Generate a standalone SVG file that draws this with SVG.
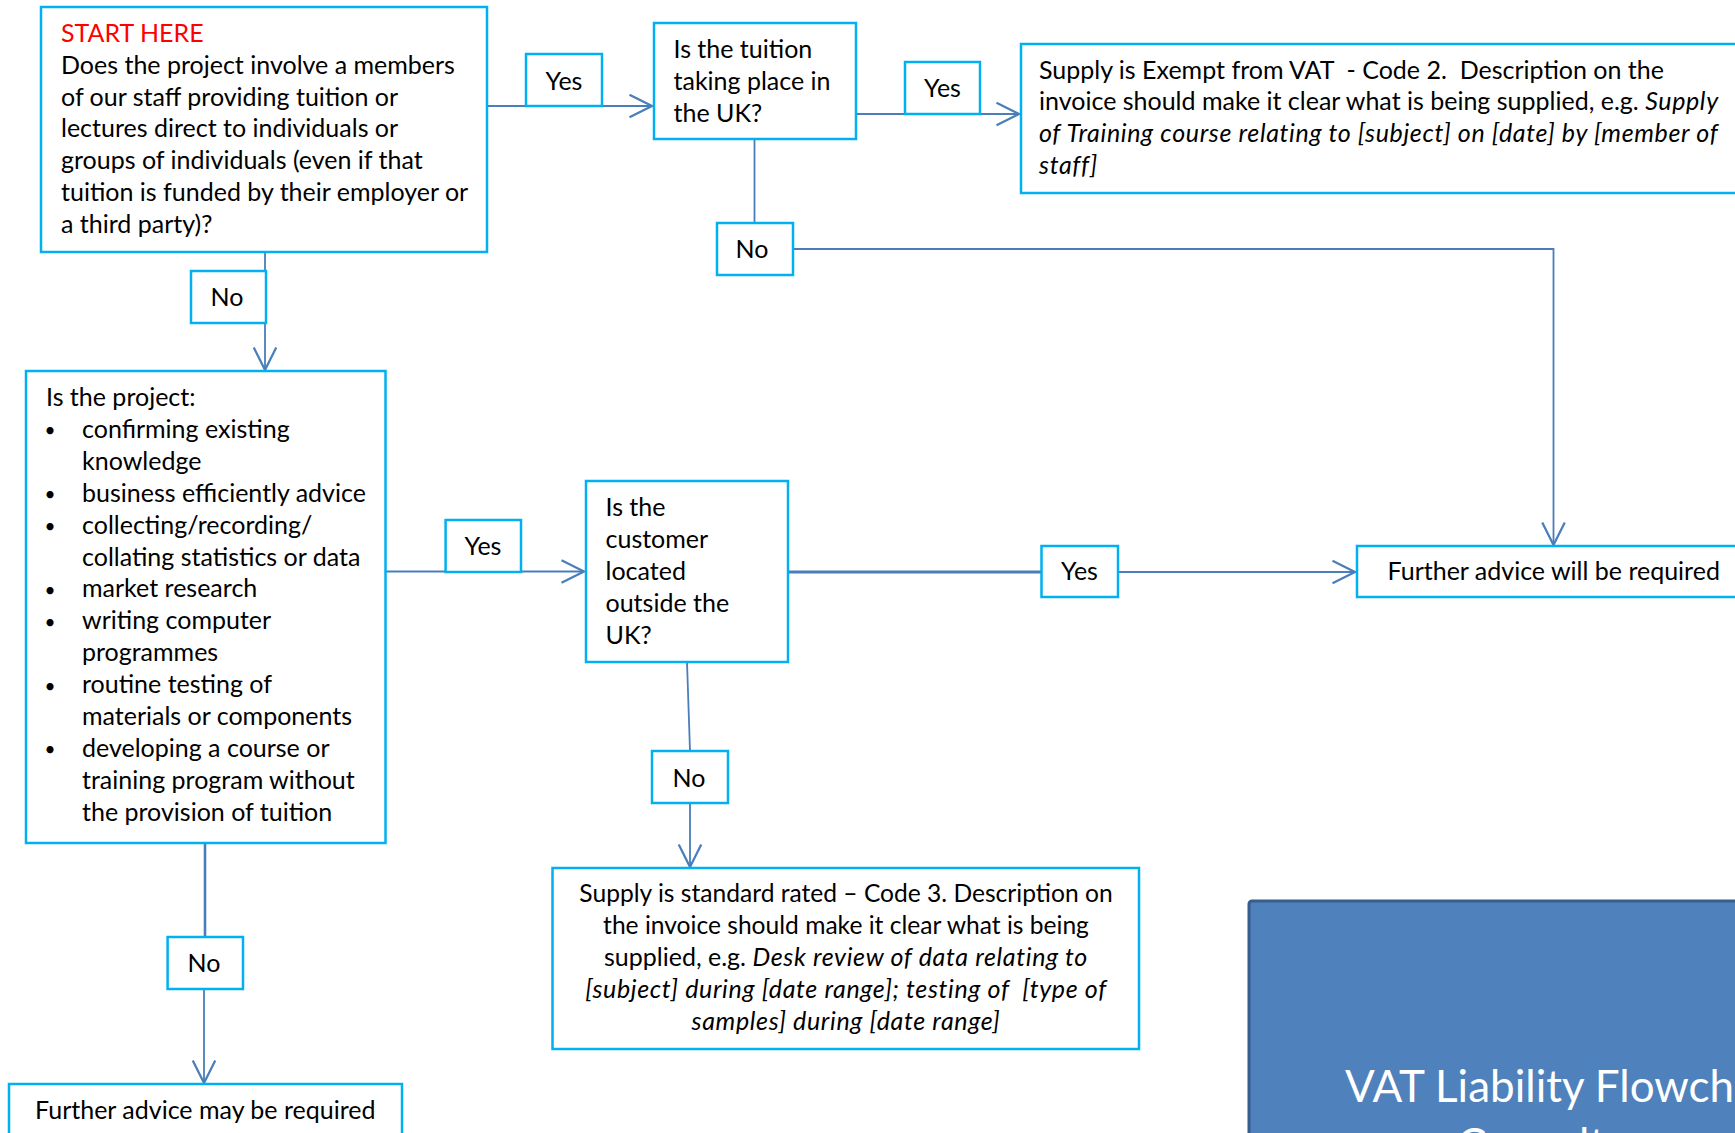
<svg xmlns="http://www.w3.org/2000/svg" width="1735" height="1133" viewBox="0 0 1735 1133">
<style>
.box{fill:#fff;stroke:#00B0F0;stroke-width:2.5}
.t{font-family:Lato,"Liberation Sans",sans-serif;font-size:25px;fill:#000}
.m{text-anchor:middle}
.i{font-style:italic;letter-spacing:0.65px}
.b{font-size:19px}
.c{fill:none;stroke:#4A7EBB;stroke-width:1.8}
.title{font-family:Lato,"Liberation Sans",sans-serif;font-size:44px;fill:#fff}
</style>
<defs>
<marker id="arr" markerUnits="userSpaceOnUse" markerWidth="30" markerHeight="30" viewBox="-20 -12 24 24" refX="0" refY="0" orient="auto">
<path d="M-18,-9 L0,0 L-18,9" fill="none" stroke="#4A7EBB" stroke-width="1.8"/>
</marker>
</defs>
<rect width="1735" height="1133" fill="#fff"/>
<g id="connectors">
<path class="c" d="M487,106 H652" marker-end="url(#arr)"/>
<path class="c" d="M265,252 V370" marker-end="url(#arr)"/>
<path class="c" d="M856,114 H1019" marker-end="url(#arr)"/>
<path class="c" d="M754.5,139 V249 H1553.5 V545" marker-end="url(#arr)"/>
<path class="c" d="M385.5,571.5 H584" marker-end="url(#arr)"/>
<path class="c" d="M788,572 H1041" style="stroke-width:3"/>
<path class="c" d="M1118,572 H1355" marker-end="url(#arr)"/>
<path class="c" d="M687,662 L690,751 M690,803 V867" marker-end="url(#arr)"/>
<path class="c" d="M205,843 V937" style="stroke-width:2.6"/>
<path class="c" d="M204,989 V1083" marker-end="url(#arr)"/>
</g>
<g id="start">
<rect class="box" x="41" y="7" width="446" height="245"/>
<text class="t" x="61" y="42" style="fill:#FF0000">START HERE</text>
<text class="t" x="61" y="73.8">Does the project involve a members</text>
<text class="t" x="61" y="105.6">of our staff providing tuition or</text>
<text class="t" x="61" y="137.4">lectures direct to individuals or</text>
<text class="t" x="61" y="169.2">groups of individuals (even if that</text>
<text class="t" x="61" y="201">tuition is funded by their employer or</text>
<text class="t" x="61" y="232.8">a third party)?</text>
</g>
<g id="tuition">
<rect class="box" x="654" y="23" width="202" height="116"/>
<text class="t" x="673.5" y="57.5">Is the tuition</text>
<text class="t" x="673.5" y="89.5">taking place in</text>
<text class="t" x="673.5" y="121.5">the UK?</text>
</g>
<g id="exempt">
<rect class="box" x="1021" y="44" width="730" height="149"/>
<text class="t" x="1039" y="78.5" xml:space="preserve">Supply is Exempt from VAT  - Code 2.  Description on the</text>
<text class="t" x="1039" y="110.3">invoice should make it clear what is being supplied, e.g. <tspan class="i">Supply</tspan></text>
<text class="t i" x="1039" y="142.1">of Training course relating to [subject] on [date] by [member of</text>
<text class="t i" x="1039" y="173.9">staff]</text>
</g>
<g id="project">
<rect class="box" x="26" y="371" width="359.5" height="472"/>
<text class="t" x="46" y="406">Is the project:</text>
<text class="t m b" x="50" y="437.4">•</text>
<text class="t" x="82" y="437.9">confirming existing</text>
<text class="t" x="82" y="469.8">knowledge</text>
<text class="t m b" x="50" y="501.2">•</text>
<text class="t" x="82" y="501.7">business efficiently advice</text>
<text class="t m b" x="50" y="533.1">•</text>
<text class="t" x="82" y="533.6">collecting/recording/</text>
<text class="t" x="82" y="565.5">collating statistics or data</text>
<text class="t m b" x="50" y="596.9">•</text>
<text class="t" x="82" y="597.4">market research</text>
<text class="t m b" x="50" y="628.8">•</text>
<text class="t" x="82" y="629.3">writing computer</text>
<text class="t" x="82" y="661.2">programmes</text>
<text class="t m b" x="50" y="692.6">•</text>
<text class="t" x="82" y="693.1">routine testing of</text>
<text class="t" x="82" y="725">materials or components</text>
<text class="t m b" x="50" y="756.4">•</text>
<text class="t" x="82" y="756.9">developing a course or</text>
<text class="t" x="82" y="788.8">training program without</text>
<text class="t" x="82" y="820.7">the provision of tuition</text>
</g>
<g id="customer">
<rect class="box" x="586" y="481" width="202" height="181"/>
<text class="t" x="605.5" y="515.5">Is the</text>
<text class="t" x="605.5" y="547.5">customer</text>
<text class="t" x="605.5" y="579.5">located</text>
<text class="t" x="605.5" y="611.5">outside the</text>
<text class="t" x="605.5" y="643.5">UK?</text>
</g>
<g id="further-will">
<rect class="box" x="1357" y="546" width="400" height="51"/>
<text class="t" x="1387.5" y="579.5">Further advice will be required</text>
</g>
<g id="standard">
<rect class="box" x="552.5" y="868" width="586.5" height="181"/>
<text class="t m" x="846" y="902" style="font-size:24.6px">Supply is standard rated – Code 3. Description on</text>
<text class="t m" x="846" y="933.9" style="font-size:24.6px">the invoice should make it clear what is being</text>
<text class="t m" x="846" y="965.8">supplied, e.g. <tspan class="i">Desk review of data relating to</tspan></text>
<text class="t m i" x="846" y="997.7" xml:space="preserve">[subject] during [date range]; testing of  [type of</text>
<text class="t m i" x="846" y="1029.6">samples] during [date range]</text>
</g>
<g id="further-may">
<rect class="box" x="9" y="1084" width="393" height="70"/>
<text class="t" x="35" y="1118.5">Further advice may be required</text>
</g>
<g id="title">
<rect x="1249" y="901" width="560" height="260" rx="3" fill="#4F81BD" stroke="#385D8A" stroke-width="3"/>
<text class="title" x="1345" y="1102">VAT Liability Flowchart</text>
<text class="title" x="1457" y="1160">Consultancy</text>
</g>
<g id="label-yes1"><rect class="box" x="526" y="54" width="76" height="52"/><text class="t m" x="564" y="89.8">Yes</text></g>
<g id="label-no1"><rect class="box" x="191" y="271" width="75" height="52"/><text class="t m" x="227" y="306.2">No</text></g>
<g id="label-yes2"><rect class="box" x="905" y="62" width="75" height="52"/><text class="t m" x="942.5" y="97.2">Yes</text></g>
<g id="label-no2"><rect class="box" x="717" y="223" width="76" height="52"/><text class="t m" x="752" y="258.2">No</text></g>
<g id="label-yes3"><rect class="box" x="445.6" y="520" width="75.4" height="52"/><text class="t m" x="483" y="554.5">Yes</text></g>
<g id="label-yes4"><rect class="box" x="1041.5" y="546" width="76.5" height="51"/><text class="t m" x="1079.5" y="579.5">Yes</text></g>
<g id="label-no3"><rect class="box" x="652" y="751" width="76" height="52"/><text class="t m" x="689" y="786.5">No</text></g>
<g id="label-no4"><rect class="box" x="167.6" y="937" width="75.4" height="52"/><text class="t m" x="204" y="972.2">No</text></g>
</svg>
